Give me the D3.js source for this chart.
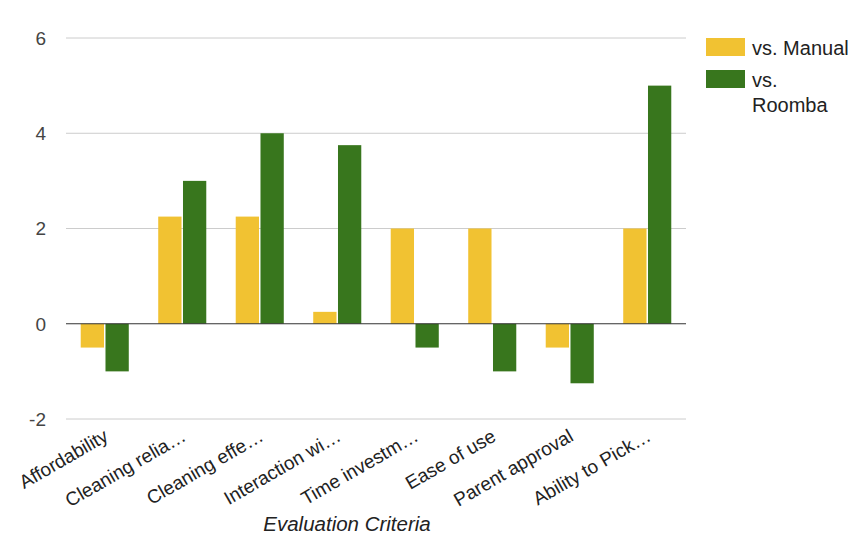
<!DOCTYPE html>
<html>
<head>
<meta charset="utf-8">
<script src="https://cdn.jsdelivr.net/npm/d3@7"></script>
<style>
  html, body { margin: 0; padding: 0; background: #fff; }
  svg { display: block; }
</style>
</head>
<body>
<svg id="chart" width="853" height="536"></svg>
<script>
// Criteria (axis labels are truncated the same way the chart shows them)
const categories = [
  "Affordability",
  "Cleaning relia\u2026",
  "Cleaning effe\u2026",
  "Interaction wi\u2026",
  "Time investm\u2026",
  "Ease of use",
  "Parent approval",
  "Ability to Pick\u2026"
];
const seriesNames = ["vs. Manual", "vs. Roomba"];
const vsManual = [-0.5, 2.25, 2.25, 0.25, 2, 2, -0.5, 2];
const vsRoomba = [-1, 3, 4, 3.75, -0.5, -1, -1.25, 5];
const yTicks = [-2, 0, 2, 4, 6];
const seriesColors = ["#f1c232", "#38761d"];
const xAxisTitle = "Evaluation Criteria";

const svg = d3.select("#chart");
const plot = { left: 66, right: 686, top: 38, bottom: 419 };
const sans = "'Liberation Sans', Arial, sans-serif";

const x0 = d3.scaleBand().domain(categories).range([plot.left, plot.right]).paddingInner(0.38).paddingOuter(0.19);
const x1 = d3.scaleBand().domain(seriesNames).range([0, x0.bandwidth()]).paddingInner(0.06);
const y = d3.scaleLinear().domain([-2, 6]).range([plot.bottom, plot.top]);

// Gridlines
svg.append("g").selectAll("line").data(yTicks.filter(t => t !== 0)).join("line")
  .attr("x1", plot.left).attr("x2", plot.right)
  .attr("y1", d => y(d)).attr("y2", d => y(d))
  .attr("stroke", "#cccccc").attr("stroke-width", 1);

// Y tick labels
svg.append("g").selectAll("text").data(yTicks).join("text")
  .attr("x", 46).attr("y", d => y(d))
  .attr("dy", "0.36em")
  .attr("text-anchor", "end")
  .attr("font-family", sans)
  .attr("font-size", 19)
  .attr("fill", "#444")
  .text(d => d);

// Bars
const rows = categories.map((c, i) => ({ cat: c, values: [vsManual[i], vsRoomba[i]] }));
const groups = svg.append("g").selectAll("g").data(rows).join("g")
  .attr("transform", d => `translate(${x0(d.cat)},0)`);
groups.selectAll("rect").data(d => d.values.map((v, k) => ({ v, k })))
  .join("rect")
  .attr("x", d => x1(seriesNames[d.k]))
  .attr("width", x1.bandwidth())
  .attr("y", d => y(Math.max(0, d.v)))
  .attr("height", d => Math.abs(y(d.v) - y(0)))
  .attr("fill", d => seriesColors[d.k]);

// Baseline at zero
svg.append("line")
  .attr("x1", plot.left).attr("x2", plot.right)
  .attr("y1", y(0)).attr("y2", y(0))
  .attr("stroke", "#333").attr("stroke-width", 1.2);

// Category labels, slanted
svg.append("g").selectAll("text").data(categories).join("text")
  .attr("transform", d => `translate(${x0(d) + x0.bandwidth() / 2 - 2},${plot.bottom + 9}) rotate(-30)`)
  .attr("dy", "0.72em")
  .attr("text-anchor", "end")
  .attr("font-family", sans)
  .attr("font-size", 19)
  .attr("fill", "#222")
  .text(d => d);

// Axis title
svg.append("text")
  .attr("x", 347)
  .attr("y", 531)
  .attr("text-anchor", "middle")
  .attr("font-family", sans)
  .attr("font-style", "italic")
  .attr("font-size", 20.5)
  .attr("fill", "#222")
  .text(xAxisTitle);

// Legend
const legend = svg.append("g").attr("font-family", sans)
  .attr("font-size", 20).attr("fill", "#222");
const legendRows = [
  { lines: ["vs. Manual"], y: 38 },
  { lines: ["vs.", "Roomba"], y: 70 }
];
legendRows.forEach((r, i) => {
  legend.append("rect").attr("x", 706).attr("y", r.y).attr("width", 39).attr("height", 18)
    .attr("fill", seriesColors[i]);
  r.lines.forEach((ln, j) => {
    legend.append("text").attr("x", 752).attr("y", r.y + 17 + j * 25).text(ln);
  });
});
</script>
</body>
</html>
